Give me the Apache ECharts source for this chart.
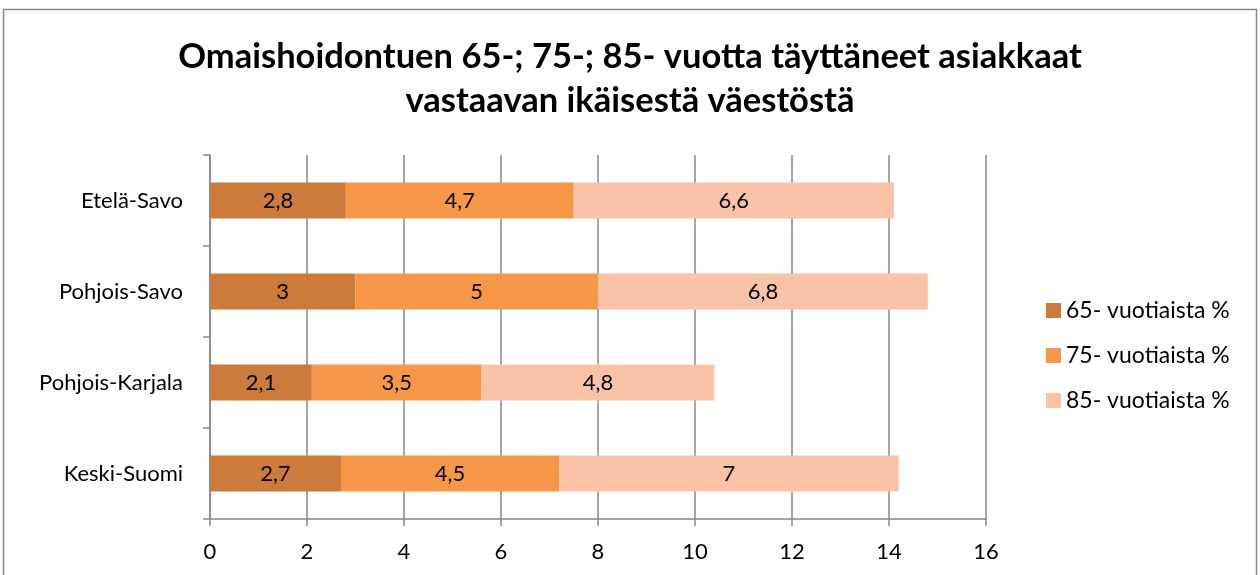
<!DOCTYPE html>
<html>
<head>
<meta charset="utf-8">
<script src="https://cdn.jsdelivr.net/npm/echarts@6/dist/echarts.min.js"></script>
<style>
  html, body { margin: 0; padding: 0; background: #fff; }
  #chart { width: 1260px; height: 575px; }
</style>
</head>
<body>
<div id="chart"></div>
<script>
// alueet alhaalta ylös (kategoria-akseli)
var categories = ['Keski-Suomi', 'Pohjois-Karjala', 'Pohjois-Savo', 'Etelä-Savo'];
var seriesNames = ['65- vuotiaista %', '75- vuotiaista %', '85- vuotiaista %'];
var values65 = [2.7, 2.1, 3, 2.8];
var values75 = [4.5, 3.5, 5, 4.7];
var values85 = [7, 4.8, 6.8, 6.6];
var colors = ['#CD7B3A', '#F79848', '#FAC3A8'];

var font = 'Lato, "Open Sans", sans-serif';

function makeSeries(name, data, color) {
  return {
    name: name,
    type: 'bar',
    stack: 'total',
    barWidth: 36,
    data: data,
    itemStyle: { color: color },
    label: {
      show: true,
      position: 'inside',
      color: '#000',
      fontFamily: font,
      fontSize: 22,
      formatter: function (p) { return String(p.value).replace('.', ','); }
    },
    emphasis: { disabled: true }
  };
}

var chart = echarts.init(document.getElementById('chart'));
var option = {
  animation: false,
  title: {
    text: 'Omaishoidontuen 65-; 75-; 85- vuotta täyttäneet asiakkaat\nvastaavan ikäisestä väestöstä',
    left: 'center',
    top: 30,
    textStyle: {
      fontFamily: font,
      fontSize: 34.5,
      fontWeight: 'bold',
      color: '#000',
      lineHeight: 44
    }
  },
  graphic: [{
    type: 'rect',
    shape: { x: 3.5, y: 9.5, width: 1253, height: 580 },
    style: { fill: null, stroke: '#888', lineWidth: 1.5 },
    silent: true
  }],
  legend: {
    orient: 'vertical',
    left: 1041,
    top: 294,
    itemWidth: 15,
    itemHeight: 15,
    itemGap: 22,
    icon: 'rect',
    data: seriesNames,
    textStyle: { fontFamily: font, fontSize: 23, color: '#000' }
  },
  grid: { left: 210, right: 274, top: 155, bottom: 56 },
  xAxis: {
    type: 'value',
    min: 0,
    max: 16,
    interval: 2,
    axisLine: { show: true, lineStyle: { color: '#888', width: 1.5 } },
    axisTick: { show: true, length: 7, lineStyle: { color: '#888', width: 1.5 } },
    splitLine: { show: true, lineStyle: { color: '#888', width: 1.5 } },
    axisLabel: { fontFamily: font, fontSize: 22, color: '#000', margin: 22 }
  },
  yAxis: {
    type: 'category',
    data: categories,
    axisLine: { show: true, lineStyle: { color: '#888', width: 1.5 } },
    axisTick: { show: true, length: 7, lineStyle: { color: '#888', width: 1.5 } },
    axisLabel: { fontFamily: font, fontSize: 22, color: '#000', margin: 27 }
  },
  series: [
    makeSeries(seriesNames[0], values65, colors[0]),
    makeSeries(seriesNames[1], values75, colors[1]),
    makeSeries(seriesNames[2], values85, colors[2])
  ]
};
chart.setOption(option);
</script>
</body>
</html>
